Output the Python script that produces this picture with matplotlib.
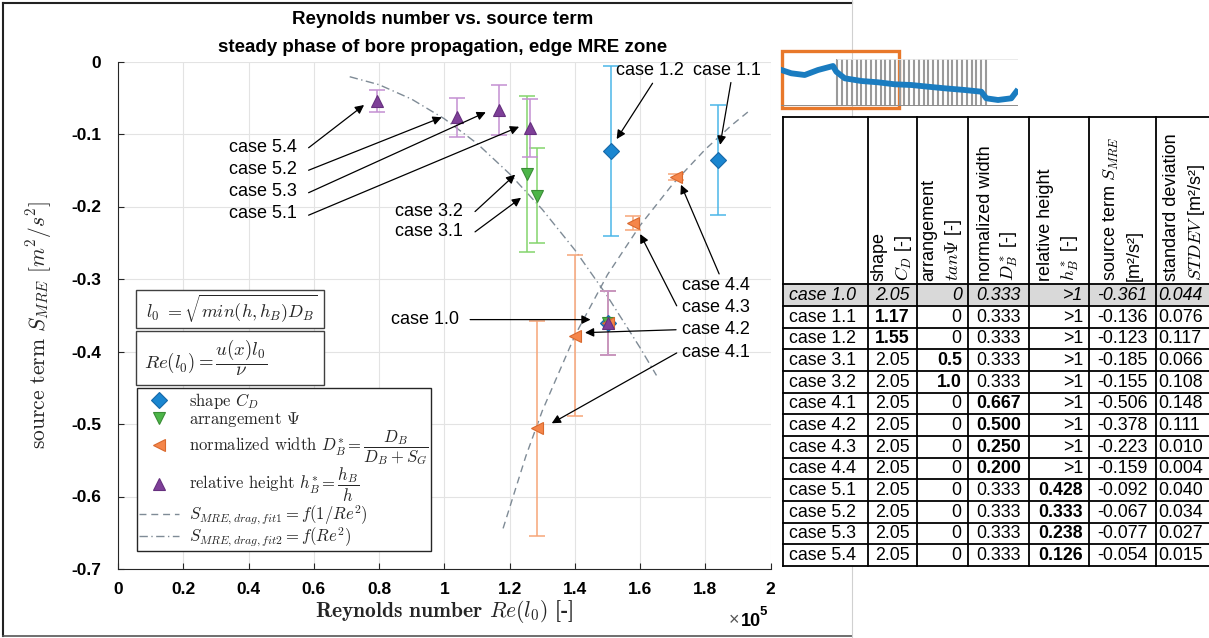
import numpy as np
import matplotlib.pyplot as plt
from matplotlib.patches import Rectangle
from matplotlib.ticker import FormatStrFormatter

plt.rcParams['font.family'] = ['Liberation Sans', 'DejaVu Sans']
plt.rcParams['mathtext.fontset'] = 'cm'
plt.rcParams['axes.unicode_minus'] = False

# ---- data (table order) ----
cases = ['case 1.0', 'case 1.1', 'case 1.2', 'case 3.1', 'case 3.2', 'case 4.1', 'case 4.2',
         'case 4.3', 'case 4.4', 'case 5.1', 'case 5.2', 'case 5.3', 'case 5.4']
shape_cd = ['2.05', '1.17', '1.55'] + ['2.05'] * 10
tan_psi = ['0', '0', '0', '0.5', '1.0'] + ['0'] * 8
d_star = ['0.333'] * 5 + ['0.667', '0.500', '0.250', '0.200'] + ['0.333'] * 4
h_star = ['>1'] * 9 + ['0.428', '0.333', '0.238', '0.126']
s_mre = [-0.361, -0.136, -0.123, -0.185, -0.155, -0.506, -0.378, -0.223, -0.159,
         -0.092, -0.067, -0.077, -0.054]
stdev = [0.044, 0.076, 0.117, 0.066, 0.108, 0.148, 0.111, 0.010, 0.004,
         0.040, 0.034, 0.027, 0.015]
re_l0 = [1.500, 1.840, 1.512, 1.283, 1.253, 1.285, 1.400, 1.577, 1.709,
         1.263, 1.167, 1.040, 0.793]   # x 1e5
bold_col = [None, 1, 1, 2, 2, 3, 3, 3, 3, 4, 4, 4, 4]

# fit curves
fit1_re = [1.18, 1.25, 1.30, 1.40, 1.50, 1.60, 1.70, 1.80, 1.88, 1.94]
fit1_s = [-0.644, -0.544, -0.482, -0.378, -0.294, -0.226, -0.169, -0.121, -0.088, -0.066]
fit2_re = [0.71, 0.80, 0.90, 1.00, 1.10, 1.20, 1.30, 1.40, 1.50, 1.60, 1.65]
fit2_s = [-0.021, -0.032, -0.052, -0.079, -0.113, -0.155, -0.204, -0.260, -0.324, -0.395, -0.433]

# small flume sketch top right
sig_x = [0.3, 10.3, 23.7, 37, 52, 55.3, 63.7, 80.3, 97, 113.7, 130.3, 147, 163.7, 183.7,
         200.3, 205.3, 217, 230.3, 235.3]
sig_y = [35.7, 32.4, 30.7, 35.7, 39.7, 34, 27.4, 24.7, 23.4, 21.4, 20.7, 19, 17.4, 15.7,
         14, 7.4, 5.7, 7.4, 14]
mre_x = [56.3, 61.1, 65.9, 70.7, 75.5, 80.3, 85.1, 89.9, 94.7, 99.5, 104.3, 109.1, 113.9,
         118.7, 123.5, 128.3, 133.1, 137.9, 142.7, 147.5, 152.3, 157.1, 161.9, 166.7, 171.5,
         176.3, 181.1, 185.9, 190.7, 195.5, 200.3, 205.1]

groups = [
    # indices, marker, size, face, edge, errorbar colour, label
    ([0, 1, 2], 'D', 8.5, '#1a86d0', '#1668a8', '#4cb6e8', r'shape $C_D$'),
    ([0, 3, 4], 'v', 9, '#4cb548', '#3a8c36', '#84d46c', r'arrangement $\Psi$'),
    ([0, 5, 6, 7, 8], '<', 9, '#f5864a', '#d9692e', '#f7a578',
     r'normalized width $D_B^{*}=\dfrac{D_B}{D_B+S_G}$'),
    ([0, 9, 10, 11, 12], '^', 9, '#7e3f98', '#66307e', '#c490d2',
     r'relative height $h_B^{*}=\dfrac{h_B}{h}$'),
]

W, H = 1209, 638
fig = plt.figure(figsize=(W / 100, H / 100), dpi=100)
dark = '#262626'

ax = fig.add_axes([118 / W, 1 - 569 / H, (770.7 - 118) / W, (569 - 61.5) / H])
ax.set_xlim(0, 2)
ax.set_ylim(-0.7, 0)
ax.set_xticks(np.linspace(0, 2, 11))
ax.set_yticks(np.linspace(-0.7, 0, 8))
ax.xaxis.set_major_formatter(FormatStrFormatter('%g'))
ax.yaxis.set_major_formatter(FormatStrFormatter('%g'))
ax.grid(True, color='#e3e3e3', lw=0.8)
ax.set_axisbelow(True)
for sp in ['top', 'right']:
    ax.spines[sp].set_visible(False)
for sp in ['left', 'bottom']:
    ax.spines[sp].set_color(dark)
    ax.spines[sp].set_linewidth(0.8)
ax.tick_params(direction='in', length=4, width=0.8, color=dark, labelsize=12.5,
               labelcolor='black')
ax.tick_params(axis='x', pad=9)
ax.tick_params(axis='y', pad=12)
for lbl in ax.get_xticklabels() + ax.get_yticklabels():
    lbl.set_fontweight('bold')

handles = []
for idx, mk, ms, fc, ec, erc, lab in groups:
    x = [re_l0[i] for i in idx]
    y = [s_mre[i] for i in idx]
    e = [stdev[i] for i in idx]
    ax.errorbar(x, y, yerr=e, fmt='none', ecolor=erc, elinewidth=1.1, capsize=6,
                capthick=1.1, zorder=3)
    h, = ax.plot(x, y, linestyle='none', marker=mk, markersize=ms,
                 markerfacecolor=fc, markeredgecolor=ec, markeredgewidth=0.8,
                 zorder=4, label=lab)
    handles.append(h)

fitc = '#7f8b96'
h1, = ax.plot(fit1_re, fit1_s, color=fitc, lw=1, dashes=(5, 3.5), zorder=2,
              label=r'$S_{MRE,drag,fit1}=f(1/Re^2)$')
h2, = ax.plot(fit2_re, fit2_s, color=fitc, lw=1, dashes=(6, 2.5, 1, 2.5), zorder=2,
              label=r'$S_{MRE,drag,fit2}=f(Re^2)$')
handles += [h1, h2]

leg = ax.legend(handles=handles, loc='upper left',
                bbox_to_anchor=(136.7 / W, 1 - 388.3 / H), bbox_transform=fig.transFigure,
                prop={'family': 'cmr10', 'size': 12}, fancybox=False, framealpha=1,
                edgecolor=dark, borderpad=0.15, labelspacing=-0.05, handlelength=2.4,
                handletextpad=0.6, borderaxespad=0)
leg.get_frame().set_linewidth(1.0)
for t in leg.get_texts():
    t.set_color(dark)

ax.set_xlabel(r'Reynolds number $Re(l_0)$ [-]', family='cmb10', fontsize=15.5, color=dark)
ax.set_ylabel(r'source term $S_{MRE}$ $[m^2/s^2]$', family='cmr10', fontsize=15.5, color=dark)
ax.xaxis.set_label_coords(0.5, -0.058)
ax.yaxis.set_label_coords(-0.098, 0.48)

# case annotations: label, text pos, ha, arrow tail, arrow tip
notes = [
    ('case 5.4', (0.549, -0.119), 'right', (0.584, -0.119), (0.754, -0.060)),
    ('case 5.2', (0.549, -0.149), 'right', (0.584, -0.150), (0.992, -0.077)),
    ('case 5.3', (0.549, -0.179), 'right', (0.584, -0.181), (1.127, -0.070)),
    ('case 5.1', (0.549, -0.209), 'right', (0.584, -0.212), (1.229, -0.090)),
    ('case 3.2', (1.057, -0.207), 'right', (1.094, -0.207), (1.217, -0.156)),
    ('case 3.1', (1.057, -0.235), 'right', (1.094, -0.235), (1.235, -0.188)),
    ('case 1.2', (1.526, -0.013), 'left', (1.638, -0.030), (1.528, -0.107)),
    ('case 1.1', (1.762, -0.013), 'left', (1.878, -0.029), (1.845, -0.115)),
    ('case 4.4', (1.727, -0.309), 'left', (1.842, -0.293), (1.725, -0.170)),
    ('case 4.3', (1.727, -0.339), 'left', (1.712, -0.337), (1.600, -0.238)),
    ('case 4.2', (1.727, -0.370), 'left', (1.710, -0.370), (1.431, -0.374)),
    ('case 4.1', (1.727, -0.402), 'left', (1.712, -0.402), (1.329, -0.499)),
    ('case 1.0', (1.045, -0.356), 'right', (1.079, -0.356), (1.448, -0.356)),
]
for lab, txy, ha, tail, tip in notes:
    ax.annotate('', xy=tip, xytext=tail,
                arrowprops=dict(arrowstyle='-|>', color='black', lw=0.9,
                                mutation_scale=13, shrinkA=0, shrinkB=0), zorder=5)
    ax.text(txy[0], txy[1], lab, ha=ha, va='center', fontsize=13, color='black', zorder=6)

# titles and exponent
fig.text(443 / W, 1 - 19 / H, 'Reynolds number vs. source term', ha='center', va='center',
         fontsize=13.5, fontweight='bold')
fig.text(443 / W, 1 - 47 / H, 'steady phase of bore propagation, edge MRE zone',
         ha='center', va='center', fontsize=13.5, fontweight='bold')
fig.text(729 / W, 1 - 621 / H, '×', ha='left', va='center', fontsize=13, color='#555555')
fig.text(741 / W, 1 - 621 / H, '10', ha='left', va='center', fontsize=13, fontweight='bold')
fig.text(759.5 / W, 1 - 612 / H, '5', ha='left', va='center', fontsize=9.5, fontweight='bold')

# overlay in pixel units
ov = fig.add_axes([0, 0, 1, 1], zorder=5)
ov.set_xlim(0, W)
ov.set_ylim(H, 0)
ov.axis('off')

ov.plot([3, 3], [3, 636], color='#222222', lw=1.5)
ov.plot([3, 852], [3, 3], color='#222222', lw=1.5)
ov.plot([3, 852], [636, 636], color='#555555', lw=1.2)
ov.plot([852, 852], [0, H], color='#d0d0d0', lw=0.8)

# formula boxes
ov.add_patch(Rectangle((136, 290), 188.3, 37.7, fc='white', ec='#404040', lw=1))
ov.text(146, 309, r'$l_0\ =\sqrt{min(h,h_B)D_B}$', fontsize=13, va='center', color=dark)
ov.add_patch(Rectangle((136, 331), 188.3, 54, fc='white', ec='#404040', lw=1))
ov.text(144, 358, r'$Re(l_0) = \dfrac{u(x)l_0}{\nu}$', fontsize=13.5, va='center', color=dark)

# flume sketch
ins = fig.add_axes([781 / W, 1 - 105.7 / H, 237 / W, 46.7 / H], zorder=6)
ins.set_xlim(0, 237)
ins.set_ylim(0, 46.7)
ins.axis('off')
for xm in mre_x:
    ins.plot([xm, xm], [0, 46.7], color='#9a9a9a', lw=1.5)
ins.plot([0, 237], [0, 0], color='#8c8c8c', lw=1.4)
ins.plot([56, 237], [46.7, 46.7], color='#e6e6e6', lw=0.6)
ins.plot(sig_x, sig_y, color='#1a7cc0', lw=4.2, solid_joinstyle='round')
ov.add_patch(Rectangle((782, 51), 116.7, 57.3, fc='none', ec='#e8782a', lw=2.4, zorder=7))

# table
col_edges = [782.7, 868.3, 916.7, 967.7, 1029.3, 1089.3, 1156, 1214]
top, head_bot, row_h = 116.7, 284.2, 21.67
nrow = len(cases)
row_edges = [head_bot + i * row_h for i in range(nrow + 1)]
ov.add_patch(Rectangle((col_edges[0], top), col_edges[-1] - col_edges[0],
                       row_edges[-1] - top, fc='white', ec='none', zorder=7))
ov.add_patch(Rectangle((col_edges[0], row_edges[0]), col_edges[-1] - col_edges[0], row_h,
                       fc='#d9d9d9', ec='none', zorder=7))
for yv in [top] + row_edges:
    ov.plot([col_edges[0], col_edges[-1]], [yv, yv], color='black', lw=1.3, zorder=8)
for xv in col_edges:
    ov.plot([xv, xv], [top, row_edges[-1]], color='black', lw=1.3, zorder=8)

headers = ['shape\n$C_D$ [-]', 'arrangement\n$tan\\Psi$ [-]', 'normalized width\n$D_B^*$ [-]',
           'relative height\n$h_B^*$ [-]', 'source term $S_{MRE}$\n[m²/s²]',
           'standard deviation\n$STDEV$ [m²/s²]']
for j, htxt in enumerate(headers):
    xc = (col_edges[j + 1] + col_edges[j + 2]) / 2
    ov.text(xc, 281, htxt, rotation=90, ha='center', va='bottom', fontsize=13,
            multialignment='left', linespacing=1.35, zorder=9)

for i in range(nrow):
    yc = row_edges[i] + row_h / 2 + 0.5
    vals = [cases[i], shape_cd[i], tan_psi[i], d_star[i], h_star[i],
            '%.3f' % s_mre[i], '%.3f' % stdev[i]]
    for j, v in enumerate(vals):
        l, r = col_edges[j], col_edges[j + 1]
        if j == 0:
            xp, ha = l + 6, 'left'
        elif j in (2, 4):
            xp, ha = r - 6, 'right'
        elif j == 6:
            xp, ha = l + 2, 'left'
        else:
            xp, ha = (l + r) / 2, 'center'
        ov.text(xp, yc, v, ha=ha, va='center', fontsize=12.8,
                fontweight='bold' if bold_col[i] == j else 'normal',
                fontstyle='italic' if i == 0 else 'normal', zorder=9)

fig.savefig('out.png', dpi=100)
